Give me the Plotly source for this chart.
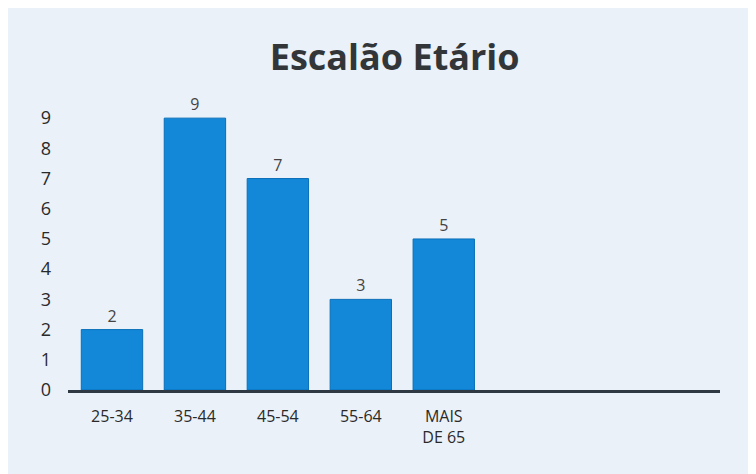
import plotly.graph_objects as go

categories = ["25-34", "35-44", "45-54", "55-64", "MAIS<br>DE 65"]
values = [2, 9, 7, 3, 5]
y_ticks = [0, 1, 2, 3, 4, 5, 6, 7, 8, 9]

fig = go.Figure()
fig.add_trace(go.Bar(
    x=list(range(len(categories))),
    y=values,
    width=0.74,
    marker=dict(color="#1388d8", line=dict(color="#0a6fb8", width=1)),
    text=[str(v) for v in values],
    textposition="outside",
    textfont=dict(family="Open Sans", size=16, color="#444444"),
    cliponaxis=False,
))

fig.update_layout(
    width=748, height=466,
    margin=dict(l=60, r=36, t=92, b=84),
    paper_bgcolor="#eaf1f8",
    plot_bgcolor="rgba(0,0,0,0)",
    showlegend=False,
    title=dict(
        text="<b>Escalão Etário</b>",
        x=0.517, xanchor="center",
        y=0.893, yanchor="middle",
        font=dict(family="Open Sans", size=36, color="#333638"),
    ),
    xaxis=dict(
        tickmode="array",
        tickvals=list(range(len(categories))),
        ticktext=categories,
        range=[-0.53, 7.33],
        showgrid=False,
        zeroline=False,
        showline=True,
        linecolor="#2f3944",
        linewidth=3,
        ticks="",
        tickfont=dict(family="Open Sans", size=16, color="#2a2a2a"),
        ticklabelstandoff=10,
    ),
    yaxis=dict(
        range=[0, 9.6],
        tickmode="array",
        tickvals=y_ticks,
        showgrid=False,
        zeroline=False,
        showline=False,
        ticks="",
        tickfont=dict(family="Open Sans", size=18, color="#2a2a2a"),
        ticklabelstandoff=16,
    ),
)

fig.write_html("out.html")
